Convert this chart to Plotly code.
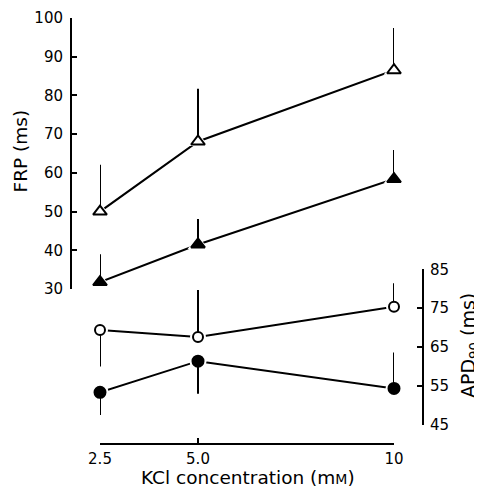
import plotly.graph_objects as go

# ---- data ----
kcl = [2.5, 5.0, 10]
x_ticks = [2.5, 5.0, 10]
x_tick_labels = ["2.5", "5.0", "10"]

frp_open = [50.0, 68.1, 86.5]          # open triangles (FRP, ms)
frp_open_err = [12.1, 13.6, 10.9]      # upward SE
frp_filled = [31.8, 41.5, 58.4]        # filled triangles (FRP, ms)
frp_filled_err = [7.2, 6.6, 7.5]

apd_open = [69.4, 67.6, 75.4]          # open circles (APD90, ms)
apd_open_up = [0, 12.1, 6.0]
apd_open_down = [9.4, 0, 0]
apd_filled = [53.4, 61.4, 54.4]        # filled circles (APD90, ms)
apd_filled_up = [0, 0, 9.2]
apd_filled_down = [5.8, 8.4, 0]

frp_ticks = [30, 40, 50, 60, 70, 80, 90, 100]
apd_ticks = [45, 55, 65, 75, 85]

# the page body has an 8px margin, so the figure sits at (8, 8)
OFF = 8
W, H = 482 - OFF, 489 - OFF
FONT = "DejaVu Sans"

def px_x(p):
    return (p - OFF) / W

def px_y(p):
    return 1 - (p - OFF) / H

fig = go.Figure()

def add_series(x, y, yaxis, symbol, filled, size, err_plus, err_minus, halo):
    # connecting line
    fig.add_trace(go.Scatter(x=x, y=y, yaxis=yaxis, mode="lines",
                             line=dict(color="black", width=2),
                             hoverinfo="skip", showlegend=False))
    # white halo to leave a gap between line and marker
    fig.add_trace(go.Scatter(x=x, y=y, yaxis=yaxis, mode="markers",
                             marker=dict(symbol=symbol, size=size + halo, color="white",
                                         line=dict(width=0)),
                             cliponaxis=False, hoverinfo="skip", showlegend=False))
    # marker with one-sided error bars
    fig.add_trace(go.Scatter(x=x, y=y, yaxis=yaxis, mode="markers",
                             marker=dict(symbol=symbol, size=size,
                                         color="black" if filled else "white",
                                         line=dict(color="black", width=2)),
                             error_y=dict(type="data", symmetric=False, array=err_plus,
                                          arrayminus=err_minus, color="black",
                                          thickness=2, width=0),
                             cliponaxis=False, hoverinfo="skip", showlegend=False))

add_series(kcl, frp_open, "y", "triangle-up", False, 12, frp_open_err, [0, 0, 0], 6)
add_series(kcl, frp_filled, "y", "triangle-up", True, 12, frp_filled_err, [0, 0, 0], 6)
add_series(kcl, apd_open, "y2", "circle", False, 10, apd_open_up, apd_open_down, 6)
add_series(kcl, apd_filled, "y2", "circle", True, 11, apd_filled_up, apd_filled_down, 6)

axis_common = dict(showgrid=False, zeroline=False, showline=True, linecolor="black",
                   linewidth=2, ticks="inside", ticklen=5, tickwidth=2, tickcolor="black",
                   automargin=False,
                   tickfont=dict(family=FONT, size=15, color="black"))

fig.update_layout(
    template="none",
    width=W, height=H,
    margin=dict(l=0, r=0, t=0, b=0, pad=0),
    paper_bgcolor="white", plot_bgcolor="rgba(0,0,0,0)",
    xaxis=dict(range=[2.5, 10], domain=[px_x(100), px_x(394)], anchor="free",
               position=px_y(444), tickmode="array", tickvals=x_ticks,
               ticktext=x_tick_labels, ticklabelstandoff=1, **axis_common),
    yaxis=dict(range=[30, 100], domain=[px_y(289), px_y(18)], anchor="free",
               position=px_x(71), side="left", tickmode="array", tickvals=frp_ticks,
               ticklabelstandoff=4, **axis_common),
    yaxis2=dict(range=[45, 85], domain=[px_y(425), px_y(269.3)], anchor="free",
                position=px_x(423), side="right", tickmode="array", tickvals=apd_ticks,
                ticklabelstandoff=3, **axis_common),
    annotations=[
        dict(text="FRP (ms)", x=px_x(19.5), y=px_y(151), xref="paper", yref="paper",
             textangle=-90, showarrow=False, xanchor="center", yanchor="middle",
             font=dict(family=FONT, size=18.5, color="black")),
        dict(text="APD<sub>90</sub> (ms)", x=px_x(469), y=px_y(346), xref="paper",
             yref="paper", textangle=-90, showarrow=False, xanchor="center",
             yanchor="middle", font=dict(family=FONT, size=19, color="black")),
        dict(text="KCl concentration (m<span style='font-size:14px'>M</span>)",
             x=px_x(247.5), y=px_y(477), xref="paper", yref="paper", showarrow=False,
             xanchor="center", yanchor="middle",
             font=dict(family=FONT, size=18.5, color="black")),
    ],
)

fig.write_html("out.html")
